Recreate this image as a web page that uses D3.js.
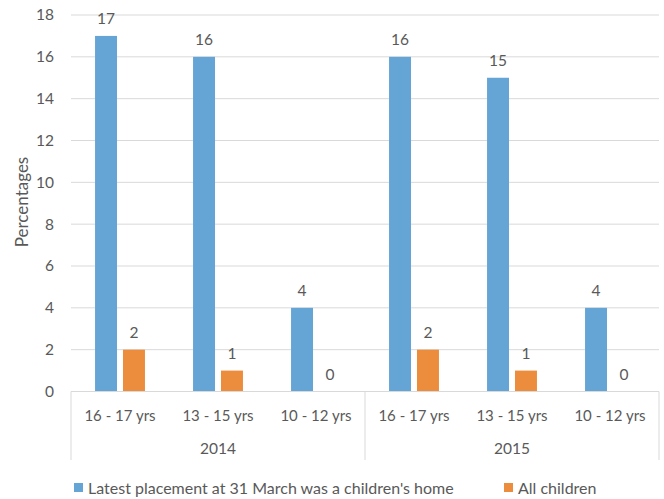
<!DOCTYPE html>
<html>
<head>
<meta charset="utf-8">
<script src="https://cdn.jsdelivr.net/npm/d3@7"></script>
<style>
body{margin:0;background:#fff;}
text{font-family:Lato,"Open Sans",sans-serif;fill:#595959;}
</style>
</head>
<body>
<svg id="svg0" width="664" height="499"></svg>
<script>
var years=["2014","2015"];
var ages=["16 - 17 yrs","13 - 15 yrs","10 - 12 yrs"];
var homeVals=[17,16,4,16,15,4];
var allVals=[2,1,0,2,1,0];
var seriesNames=["Latest placement at 31 March was a children's home","All children"];
var colors=["#65a5d6","#ec8d3d"];
var yTicks=[0,2,4,6,8,10,12,14,16,18];

var svg=d3.select("#svg0");
var plotLeft=71,plotRight=659,plotTop=15,base=391.5;

var cats=[];
years.forEach(function(y){ages.forEach(function(a){cats.push(y+"|"+a);});});

var x=d3.scaleBand().domain(cats).range([plotLeft,plotRight]);
var inner=d3.scaleBand().domain([0,1]).range([0,x.bandwidth()]).paddingInner(0.214).paddingOuter(0.86);
var y=d3.scaleLinear().domain([0,18]).range([base,plotTop]);

// grid
svg.selectAll("line.grid").data(yTicks).enter().append("line")
  .attr("x1",plotLeft).attr("x2",plotRight)
  .attr("y1",function(d){return y(d);}).attr("y2",function(d){return y(d);})
  .attr("stroke","#d9d9d9").attr("stroke-width",1);

// y axis labels
svg.selectAll("text.ytick").data(yTicks).enter().append("text")
  .attr("x",54).attr("y",function(d){return y(d);}).attr("dy","0.35em")
  .attr("text-anchor","end").attr("font-size",15.5).text(function(d){return d;});

svg.append("text").attr("transform","translate(22,"+202+") rotate(-90)")
  .attr("text-anchor","middle").attr("dy","0.35em").attr("font-size",17).text("Percentages");

// bars
var data=[];
cats.forEach(function(c,i){
  data.push({c:c,s:0,v:homeVals[i]});
  data.push({c:c,s:1,v:allVals[i]});
});
svg.selectAll("rect.bar").data(data).enter().append("rect")
  .attr("x",function(d){return x(d.c)+inner(d.s);})
  .attr("width",inner.bandwidth())
  .attr("y",function(d){return y(d.v);})
  .attr("height",function(d){return base-y(d.v);})
  .attr("fill",function(d){return colors[d.s];});

svg.selectAll("text.val").data(data).enter().append("text")
  .attr("x",function(d){return x(d.c)+inner(d.s)+inner.bandwidth()/2;})
  .attr("y",function(d){return y(d.v)-12;})
  .attr("text-anchor","middle").attr("font-size",15.5)
  .text(function(d){return d.v;});

// category axis
svg.append("line").attr("x1",plotLeft).attr("x2",plotRight).attr("y1",base).attr("y2",base)
  .attr("stroke","#d9d9d9");
var seps=[plotLeft,x(cats[3]),plotRight];
svg.selectAll("line.sep").data(seps).enter().append("line")
  .attr("x1",function(d){return d;}).attr("x2",function(d){return d;})
  .attr("y1",base).attr("y2",460).attr("stroke","#d9d9d9");

svg.selectAll("text.cat").data(cats).enter().append("text")
  .attr("x",function(d){return x(d)+x.bandwidth()/2;}).attr("y",416).attr("dy","0.35em")
  .attr("text-anchor","middle").attr("font-size",15)
  .text(function(d){return d.split("|")[1];});

svg.selectAll("text.year").data(years).enter().append("text")
  .attr("x",function(d,i){return (x(cats[i*3])+x(cats[i*3+2])+x.bandwidth())/2;})
  .attr("y",449).attr("dy","0.35em")
  .attr("text-anchor","middle").attr("font-size",15.5).text(function(d){return d;});

// legend
var legX=[74,504];
var leg=svg.selectAll("g.leg").data(seriesNames).enter().append("g")
  .attr("transform",function(d,i){return "translate("+legX[i]+",488)";});
leg.append("rect").attr("x",0).attr("y",-5).attr("width",9).attr("height",9)
  .attr("fill",function(d,i){return colors[i];});
leg.append("text").attr("x",14).attr("y",0).attr("dy","0.35em").attr("font-size",16)
  .text(function(d){return d;});
</script>
</body>
</html>
